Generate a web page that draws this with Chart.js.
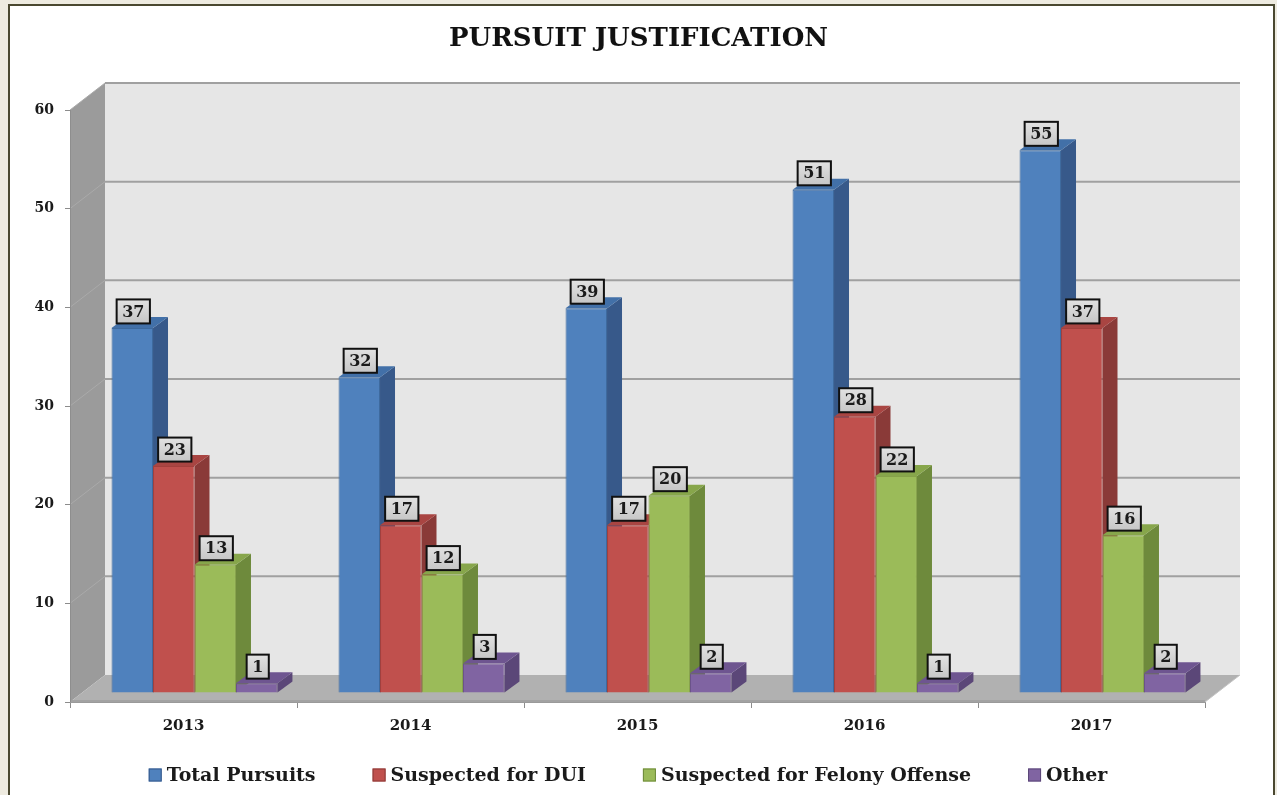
<!DOCTYPE html>
<html><head><meta charset="utf-8">
<script src="https://cdn.jsdelivr.net/npm/chart.js@4.4.1/dist/chart.umd.min.js"></script>
<style>
html,body{margin:0;padding:0;background:#EEEBE0;width:1277px;height:795px;overflow:hidden}
#frame{position:absolute;left:8px;top:4px;width:1263px;height:800px;border:2px solid #4A4830;background:#fff}
#c{position:absolute;left:0;top:0}
</style></head><body>
<div id="frame"></div>
<canvas id="c" width="1277" height="795"></canvas>
<script>
const categories = ['2013', '2014', '2015', '2016', '2017'];
const seriesNames = ['Total Pursuits', 'Suspected for DUI', 'Suspected for Felony Offense', 'Other'];
const totalPursuits = [37, 32, 39, 51, 55];
const suspectedDUI = [23, 17, 17, 28, 37];
const suspectedFelony = [13, 12, 20, 22, 16];
const otherReasons = [1, 3, 2, 1, 2];
const yTicks = [0, 10, 20, 30, 40, 50, 60];

const FONT = '"DejaVu Serif", serif';
const frontColors = ['#4F81BD', '#C0504D', '#9BBB59', '#8064A2'];
const sideColors = ['#37598A', '#8A3A38', '#6E8A3C', '#5B4778'];
const topColors = ['#4270A8', '#A94542', '#87A64B', '#6E5590'];
const edgeColors = ['#3E6A9E', '#A3403D', '#86A24A', '#6B5389'];

const WALL = {dx: 35, dy: -27};
const PLANE = {dx: 11, dy: -9};
const DEPTH = {dx: 15, dy: -11};

function poly(ctx, pts, fill) {
  ctx.beginPath();
  ctx.moveTo(pts[0][0], pts[0][1]);
  for (let i = 1; i < pts.length; i++) ctx.lineTo(pts[i][0], pts[i][1]);
  ctx.closePath();
  ctx.fillStyle = fill;
  ctx.fill();
}

const threeD = {
  id: 'threeD',
  beforeDatasetsDraw(chart) {
    const ctx = chart.ctx;
    const x = chart.scales.x, y = chart.scales.y;
    const L = x.left, R = x.right;
    const B = y.getPixelForValue(yTicks[0]);
    const T = y.getPixelForValue(yTicks[yTicks.length - 1]);
    ctx.save();
    ctx.fillStyle = '#E6E6E6';
    ctx.fillRect(L + WALL.dx, T + WALL.dy, R - L, B - T);
    poly(ctx, [[L, T], [L + WALL.dx, T + WALL.dy], [L + WALL.dx, B + WALL.dy], [L, B]], '#9B9B9B');
    poly(ctx, [[L, B], [R, B], [R + WALL.dx, B + WALL.dy], [L + WALL.dx, B + WALL.dy]], '#B1B1B1');
    // floor front edge strip
    ctx.fillStyle = '#A2A2A2';
    ctx.fillRect(L, B - 2, R - L, 2);
    yTicks.forEach(v => {
      const py = y.getPixelForValue(v);
      if (v !== yTicks[0]) {
        ctx.strokeStyle = '#A0A0A0';
        ctx.lineWidth = 2;
        ctx.beginPath();
        ctx.moveTo(L + WALL.dx, py + WALL.dy);
        ctx.lineTo(R + WALL.dx, py + WALL.dy);
        ctx.stroke();
        ctx.strokeStyle = '#AAAAAA';
        ctx.lineWidth = 1;
        ctx.beginPath();
        ctx.moveTo(L, py);
        ctx.lineTo(L + WALL.dx, py + WALL.dy);
        ctx.stroke();
      }
    });
    ctx.strokeStyle = '#8E8E8E';
    ctx.lineWidth = 1;
    ctx.beginPath();
    ctx.moveTo(L + 0.5, T); ctx.lineTo(L + 0.5, B);
    ctx.stroke();
    ctx.strokeStyle = '#C4C4C4';
    ctx.beginPath();
    ctx.moveTo(R, B); ctx.lineTo(R + WALL.dx, B + WALL.dy);
    ctx.stroke();
    ctx.translate(PLANE.dx, PLANE.dy);
    chart.data.labels.forEach((_, i) => {
      chart.data.datasets.forEach((ds, di) => {
        const el = chart.getDatasetMeta(di).data[i];
        if (!el) return;
        const l = el.x - el.width / 2, r = el.x + el.width / 2, t = el.y, b = el.base;
        poly(ctx, [[r, t], [r + DEPTH.dx, t + DEPTH.dy], [r + DEPTH.dx, b + DEPTH.dy], [r, b]], sideColors[di]);
        poly(ctx, [[l, t], [r, t], [r + DEPTH.dx, t + DEPTH.dy], [l + DEPTH.dx, t + DEPTH.dy]], topColors[di]);
      });
    });
  },
  afterDatasetsDraw(chart) {
    const ctx = chart.ctx;
    ctx.restore();
    ctx.save();
    ctx.font = 'bold 16px ' + FONT;
    ctx.textAlign = 'center';
    ctx.textBaseline = 'middle';
    chart.data.datasets.forEach((ds, di) => {
      chart.getDatasetMeta(di).data.forEach((el, i) => {
        const txt = String(ds.data[i]);
        const w = ctx.measureText(txt).width + 11;
        const h = 24;
        const cx = el.x + PLANE.dx + 1;
        const bottom = el.y + PLANE.dy - 4.5;
        const g = ctx.createLinearGradient(0, bottom - h, 0, bottom);
        g.addColorStop(0, '#E2E2E2');
        g.addColorStop(1, '#C6C6C6');
        ctx.fillStyle = g;
        ctx.fillRect(cx - w / 2, bottom - h, w, h);
        ctx.strokeStyle = '#111';
        ctx.lineWidth = 2;
        ctx.strokeRect(cx - w / 2, bottom - h, w, h);
        ctx.fillStyle = '#1a1a1a';
        ctx.fillText(txt, cx, bottom - h / 2 + 1);
      });
    });
    ctx.restore();
  },
  afterDraw(chart) {
    const ctx = chart.ctx;
    ctx.save();
    ctx.font = 'bold 19px ' + FONT;
    ctx.textBaseline = 'middle';
    ctx.textAlign = 'left';
    const box = 13, gap = 5, spacing = 57, cy = 775;
    const items = chart.data.datasets.map((d, i) => ({text: d.label, fill: frontColors[i], edge: sideColors[i], w: ctx.measureText(d.label).width}));
    const total = items.reduce((s, it) => s + box + gap + it.w, 0) + spacing * (items.length - 1);
    let xx = 628 - total / 2;
    items.forEach(it => {
      ctx.fillStyle = it.fill;
      ctx.fillRect(xx, cy - box / 2, box, box);
      ctx.strokeStyle = it.edge;
      ctx.lineWidth = 1;
      ctx.strokeRect(xx + 0.5, cy - box / 2 + 0.5, box - 1, box - 1);
      ctx.fillStyle = '#1a1a1a';
      ctx.fillText(it.text, xx + box + gap, cy + 1);
      xx += box + gap + it.w + spacing;
    });
    ctx.restore();
  }
};

const seriesValues = [totalPursuits, suspectedDUI, suspectedFelony, otherReasons];

new Chart(document.getElementById('c'), {
  type: 'bar',
  data: {
    labels: categories,
    datasets: seriesNames.map((name, i) => ({
      label: name,
      data: seriesValues[i],
      backgroundColor: frontColors[i],
      borderColor: edgeColors[i],
      borderWidth: 1,
      barPercentage: 1.0,
      categoryPercentage: 0.731,
      clip: false,
      yAxisID: 'y'
    }))
  },
  options: {
    responsive: false,
    animation: false,
    devicePixelRatio: 1,
    layout: {padding: {left: 0, right: 0, top: 0, bottom: 39}},
    plugins: {
      title: {
        display: true,
        text: 'PURSUIT JUSTIFICATION',
        color: '#111',
        font: {family: FONT, size: 26, weight: 'bold', lineHeight: 1.2},
        padding: {top: 24, bottom: 54.8}
      },
      legend: {display: false},
      tooltip: {enabled: false}
    },
    scales: {
      x: {
        grid: {drawOnChartArea: false, tickLength: 6, color: '#8C8C8C', offset: true},
        border: {display: true, color: '#9A9A9A', width: 1},
        ticks: {color: '#1a1a1a', font: {family: FONT, size: 15, weight: 'bold'}, padding: 9},
        afterFit: s => { s.height = 54; }
      },
      y: {
        min: 0, max: 60,
        afterBuildTicks: s => { s.ticks = yTicks.map(v => ({value: v})); },
        grid: {drawOnChartArea: false, tickLength: 5, color: '#8C8C8C'},
        border: {display: false},
        ticks: {color: '#1a1a1a', font: {family: FONT, size: 14, weight: 'bold'}, padding: 11},
        afterFit: s => { s.width = 70; }
      },
      yRight: {
        position: 'right',
        display: true,
        min: 0, max: 60,
        grid: {display: false, drawTicks: false},
        border: {display: false},
        ticks: {display: false},
        afterFit: s => { s.width = 72; }
      }
    }
  },
  plugins: [threeD]
});
</script>
</body></html>
